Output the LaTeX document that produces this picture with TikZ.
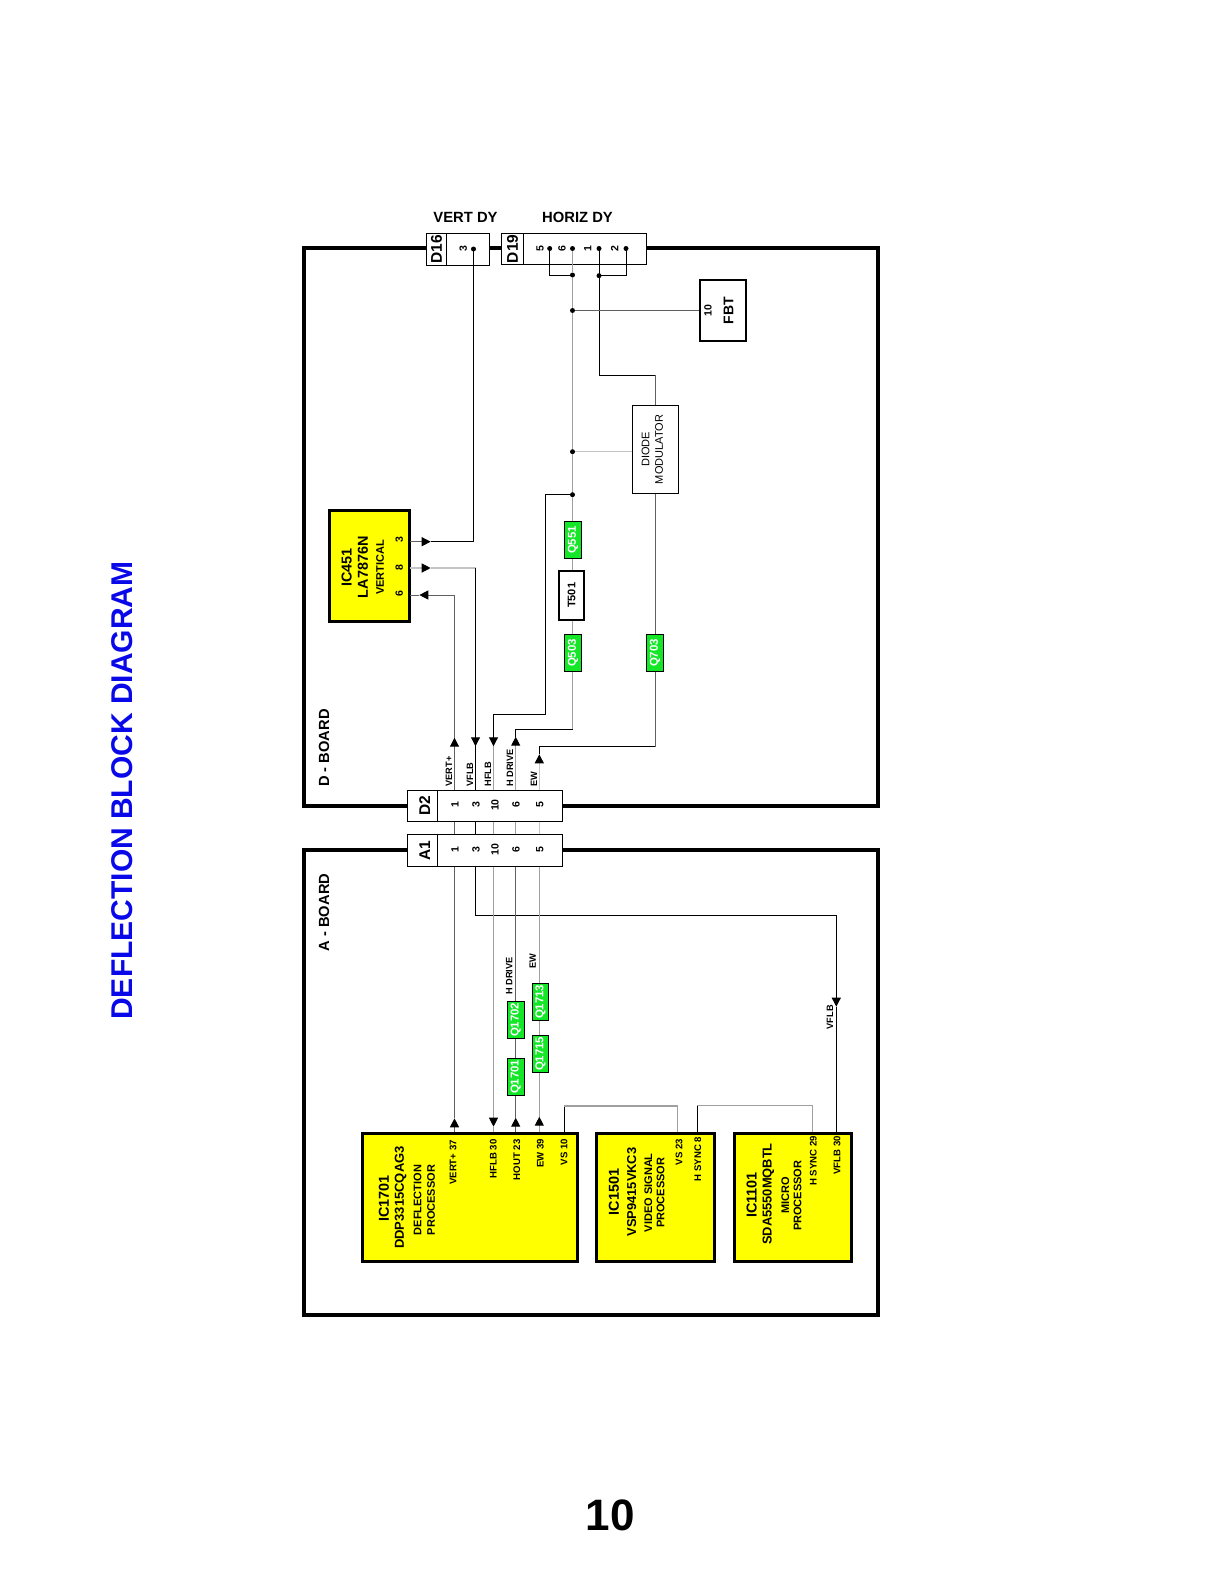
\documentclass[tikz,border=0pt]{standalone}
\usepackage{fontspec}
\setmainfont{Liberation Sans}
\usepackage{tikz}
\usetikzlibrary{arrows.meta}
\definecolor{chipyellow}{HTML}{FFFF00}
\definecolor{qgreen}{HTML}{14E628}
\definecolor{titleblue}{HTML}{0808E8}
\definecolor{wiredarkc}{HTML}{606060}
\definecolor{wiregrayc}{HTML}{A0A0A0}
\definecolor{wirelightc}{HTML}{C4C4C4}
\newcommand{\fsz}[1]{\fontsize{#1}{#1}\selectfont}
\newcommand{\rot}[1]{\rotatebox{90}{#1}}
\tikzset{
	boardnode/.style={
			rectangle,
			draw=black,
			line width=4pt,
			inner sep=0pt
		},
	chipnode/.style={
			rectangle,
			draw=black,
			fill=chipyellow,
			line width=3pt,
			inner sep=0pt
		},
	cellnode/.style={
			rectangle,
			draw=black,
			fill=white,
			line width=0.9pt,
			inner sep=0pt,
			font=\fsz{15.5}\bfseries
		},
	qnode/.style={
			rectangle,
			draw=black,
			fill=qgreen,
			text=white,
			line width=0.9pt,
			inner sep=0pt,
			minimum width=16.5pt,
			minimum height=36.5pt,
			font=\fsz{11.4}\bfseries
		},
	dotnode/.style={
			circle,
			fill=black,
			inner sep=0pt,
			minimum size=5pt
		},
	rotnode/.style={
			rotate=90,
			inner sep=0pt
		},
	titlenode/.style={
			rotnode,
			font=\fsz{14.4}\bfseries
		},
	namenode/.style={
			rotnode,
			font=\fsz{12.9}\bfseries
		},
	descnode/.style={
			rotnode,
			font=\fsz{11}\bfseries
		},
	pinnode/.style={
			rotnode,
			anchor=east,
			font=\fsz{9.6}\bfseries
		},
	numnode/.style={
			rotnode,
			font=\fsz{10.5}\bfseries
		},
	labelnode/.style={
			rotnode,
			anchor=west,
			font=\fsz{9.2}\bfseries
		},
	wire/.style={draw=black, line width=0.9pt},
	wiredark/.style={draw=wiredarkc, line width=1pt},
	wiregray/.style={draw=wiregrayc, line width=1.1pt},
	wirelight/.style={draw=wirelightc, line width=1.2pt},
	tipline/.style={-{Triangle[length=9pt,width=9pt,color=black,fill=black]}}
}
\begin{document}
\begin{tikzpicture}[x=1pt, y=-1pt]
\useasboundingbox (0,0) rectangle (1219,1582);

\node[rotnode, text=titleblue, font=\fsz{30}\bfseries] (title) at (122,790.5) {DEFLECTION BLOCK DIAGRAM};
\node[inner sep=0pt, font=\fsz{44}\bfseries] (pagenum) at (610,1515) {10};
\node[inner sep=0pt, font=\fsz{14.8}\bfseries] (vertdy) at (465.5,217.7) {VERT DY};
\node[inner sep=0pt, font=\fsz{14.8}\bfseries] (horizdy) at (577.5,217.7) {HORIZ DY};

\node[boardnode, minimum width=574pt, minimum height=557.4pt] (dboard) at (591,527) {};
\node[boardnode, minimum width=574pt, minimum height=464.7pt] (aboard) at (591,1082.7) {};
\node[rotnode, font=\fsz{14.7}\bfseries] (dboardlabel) at (324,748) {D - BOARD};
\node[rotnode, font=\fsz{14.7}\bfseries] (aboardlabel) at (324,912.5) {A - BOARD};

\node[cellnode, minimum width=20.4pt, minimum height=32pt] (d16label) at (436.5,249.3) {\rot{D16}};
\node[cellnode, minimum width=43pt, minimum height=32pt] (d16pins) at (468.2,249.3) {};
\node[cellnode, minimum width=21.6pt, minimum height=31pt] (d19label) at (512.5,248.8) {\rot{D19}};
\node[cellnode, minimum width=123.4pt, minimum height=31pt] (d19pins) at (585,248.8) {};
\node[cellnode, minimum width=30pt, minimum height=31pt] (d2label) at (422.3,805.8) {\hspace*{5pt}\rot{D2}};
\node[cellnode, minimum width=125.4pt, minimum height=31pt] (d2pins) at (500,805.8) {};
\node[cellnode, minimum width=30pt, minimum height=32pt] (a1label) at (422.3,850.3) {\hspace*{5pt}\rot{A1}};
\node[cellnode, minimum width=125.4pt, minimum height=32pt] (a1pins) at (500,850.3) {};

\node[numnode] (d16n3) at (463.3,249) {3};
\node[numnode] (d19n5) at (540,248.5) {5};
\node[numnode] (d19n6) at (562,248.5) {6};
\node[numnode] (d19n1) at (587.7,248.5) {1};
\node[numnode] (d19n2) at (614.7,248.5) {2};
\node[numnode] (d2n1) at (455,805) {1};
\node[numnode] (d2n3) at (476,805) {3};
\node[numnode] (d2n10) at (495,805) {10};
\node[numnode] (d2n6) at (516,805) {6};
\node[numnode] (d2n5) at (539.7,805) {5};
\node[numnode] (a1n1) at (455,849.7) {1};
\node[numnode] (a1n3) at (476,849.7) {3};
\node[numnode] (a1n10) at (495,849.7) {10};
\node[numnode] (a1n6) at (516,849.7) {6};
\node[numnode] (a1n5) at (539.7,849.7) {5};

\node[dotnode] (pin3) at (473.5,249) {};
\node[dotnode] (pin5) at (549.7,248.5) {};
\node[dotnode] (pin6) at (572.5,248.5) {};
\node[dotnode] (pin1) at (599,248.5) {};
\node[dotnode] (pin2) at (626,248.5) {};
\node[dotnode] (j1) at (572.5,275) {};
\node[dotnode] (j2) at (599,275.7) {};
\node[dotnode] (j3) at (572.5,310.5) {};
\node[dotnode] (j4) at (572.5,451.7) {};
\node[dotnode] (j5) at (572.5,494.7) {};

\node[draw=black, line width=2pt, inner sep=0pt, minimum width=46pt, minimum height=61pt] (fbt) at (723,310.5) {};
\node[numnode] (fbtn10) at (708,310.5) {10};
\node[rotnode, font=\fsz{14}\bfseries] (fbtlabel) at (728.5,310.5) {FBT};

\node[draw=black, line width=0.9pt, inner sep=0pt, minimum width=46pt, minimum height=87.6pt] (diode) at (655,449.5) {};
\node[rotnode, font=\fsz{11}] (diodelabel1) at (645.5,449.5) {DIODE};
\node[rotnode, font=\fsz{11}] (diodelabel2) at (659,449.5) {MODULATOR};

\node[qnode] (q551) at (573,540) {\rot{Q551}};
\node[draw=black, fill=white, line width=2pt, inner sep=0pt, minimum width=24.5pt, minimum height=49pt, font=\fsz{11}\bfseries] (t501) at (571.5,595.3) {\rot{T501}};
\node[qnode] (q503) at (573,653) {\rot{Q503}};
\node[qnode] (q703) at (655,653) {\rot{Q703}};
\node[qnode] (q1702) at (515.7,1019.8) {\rot{Q1702}};
\node[qnode] (q1701) at (515.7,1076.8) {\rot{Q1701}};
\node[qnode] (q1713) at (540.5,1001.8) {\rot{Q1713}};
\node[qnode] (q1715) at (540.5,1053.8) {\rot{Q1715}};

\node[chipnode, minimum width=79.5pt, minimum height=110.5pt] (ic451) at (369.6,566) {};
\node[titlenode] (ic451t1) at (346.7,567.3) {IC451};
\node[titlenode] (ic451t2) at (363,567.3) {LA7876N};
\node[descnode] (ic451t3) at (380,567.3) {VERTICAL};
\node[numnode] (ic451n3) at (399.3,540) {3};
\node[numnode] (ic451n8) at (399.3,567.7) {8};
\node[numnode] (ic451n6) at (399.3,593.3) {6};

\node[chipnode, minimum width=214.5pt, minimum height=127.5pt] (ic1701) at (470,1197.4) {};
\node[titlenode] (ic1701t1) at (384,1198.7) {IC1701};
\node[rotnode, font=\fsz{13}\bfseries] (ic1701t2) at (400.7,1197.5) {DDP3315CQAG3};
\node[descnode] (ic1701t3) at (417.7,1200) {DEFLECTION};
\node[descnode] (ic1701t4) at (431,1200) {PROCESSOR};
\node[pinnode] (ic1701p37) at (453,1140) {VERT+ 37};
\node[pinnode] (ic1701p30) at (493.3,1139.3) {HFLB 30};
\node[pinnode] (ic1701p23) at (516.7,1139.3) {HOUT 23};
\node[pinnode] (ic1701p39) at (540.3,1138.5) {EW 39};
\node[pinnode] (ic1701p10) at (564,1139) {VS 10};

\node[chipnode, minimum width=117.5pt, minimum height=128pt] (ic1501) at (655.5,1197.5) {};
\node[titlenode] (ic1501t1) at (614,1192) {IC1501};
\node[namenode] (ic1501t2) at (631.7,1192) {VSP9415VKC3};
\node[descnode] (ic1501t3) at (648.3,1192.7) {VIDEO SIGNAL};
\node[descnode] (ic1501t4) at (660.7,1192.7) {PROCESSOR};
\node[pinnode] (ic1501p23) at (679,1138.7) {VS 23};
\node[pinnode] (ic1501p8) at (697.7,1136.7) {H SYNC 8};

\node[chipnode, minimum width=117pt, minimum height=128pt] (ic1101) at (793.3,1197.5) {};
\node[titlenode] (ic1101t1) at (751.7,1195) {IC1101};
\node[namenode] (ic1101t2) at (768.3,1194) {SDA5550MQBTL};
\node[descnode] (ic1101t3) at (785.3,1195.5) {MICRO};
\node[descnode] (ic1101t4) at (797.7,1195.7) {PROCESSOR};
\node[pinnode] (ic1101p29) at (813.3,1136) {H SYNC 29};
\node[pinnode] (ic1101p30) at (837,1136) {VFLB 30};

\node[labelnode] (dvert) at (449,786.7) {VERT+};
\node[labelnode] (dvflb) at (470,786.7) {VFLB};
\node[labelnode] (dhflb) at (488,786.7) {HFLB};
\node[labelnode] (dhdrive) at (510,786.7) {H DRIVE};
\node[labelnode] (dew) at (534,786.7) {EW};
\node[labelnode] (ahdrive) at (509.3,995) {H DRIVE};
\node[labelnode] (aew) at (532.7,968.7) {EW};
\node[labelnode] (avflb) at (830,1029.5) {VFLB};

\coordinate (col1) at (454.5,1000);
\coordinate (col2) at (475.5,1000);
\coordinate (col3) at (493.5,1000);
\coordinate (col4) at (515.7,1000);
\coordinate (col5) at (539.3,1000);

\coordinate (ic451p3) at (409.5,541.7);
\coordinate (ic451p8) at (409.5,568);
\coordinate (ic451p6) at (409.5,595);
\coordinate (tip3) at (430.7,541.7);
\coordinate (tip8) at (430.7,568);
\coordinate (tip6) at (419.3,595);
\coordinate (dtip1) at (454.5,737.7);
\coordinate (dtip3) at (475.5,746.3);
\coordinate (dtip10) at (493.5,746.3);
\coordinate (dtip6) at (515.7,736.7);
\coordinate (dtip5) at (539.3,754.3);
\coordinate (atip1) at (454.5,1118.3);
\coordinate (atip3) at (836.3,1006.7);
\coordinate (atip10) at (493.5,1126.7);
\coordinate (atip6) at (515.7,1117.7);
\coordinate (atip5) at (539.3,1116.7);
\coordinate (diodetop) at (655,375.3);
\coordinate (hflbleft) at (545.3,714.3);
\coordinate (hdriveleft) at (515.7,729.3);
\coordinate (hdriveright) at (572.5,729.3);
\coordinate (ewleft) at (539.3,746.7);
\coordinate (ewright) at (655,746.7);
\coordinate (vfturn) at (475.5,568);
\coordinate (vertturn) at (454.5,595);
\coordinate (pin3turn) at (473.5,541.7);
\coordinate (avfleft) at (475.5,915.3);
\coordinate (avfright) at (836.3,915.3);
\coordinate (vsleft) at (564.3,1106);
\coordinate (vsright) at (677.7,1106);
\coordinate (hsleft) at (697.3,1105.7);
\coordinate (hsright) at (812.3,1105.7);

\draw[wiregray] (pin6) -- (j1) -- (j3) -- (j4) -- (j5) -- (j5 |- q551.north);
\draw[wiregray] (j5 |- q551.south) -- (j5 |- t501.north);
\draw[wiregray] (j5 |- t501.south) -- (j5 |- q503.north);
\draw[wiregray] (j5 |- q503.south) -- (hdriveright);
\draw[wire] (pin5.center) |- (j1.center);
\draw[wire] (pin2.center) |- (j2.center);
\draw[wire] (pin1.center) |- (diodetop);
\draw[wiredark] (diodetop) -- (diode.north);
\draw[wiredark] (j3) -- (fbt.west);
\draw[wirelight] (j4) -- (diode.west |- j4);
\draw[wiredark] (diode.south) -- (q703.north);
\draw[wiredark] (q703.south) -- (ewright);

\draw[wire] (pin3.center) -- (pin3turn) -- (tip3);
\draw[wiredark, tipline] (ic451p3) -- (tip3);
\draw[wirelight, tipline] (ic451p8) -- (tip8);
\draw[wirelight] (tip8) -- (vfturn);
\draw[wire, tipline] (vfturn) -- (dtip3);
\draw[wire] (dtip3) -- (col2 |- d2pins.north);
\draw[wiredark, tipline] (col1 |- d2pins.north) -- (dtip1);
\draw[wiredark] (dtip1) -- (vertturn);
\draw[wiredark, tipline] (vertturn) -- (tip6);
\draw[wiredark] (tip6) -- (ic451p6);
\draw[wire, tipline] (j5.center) -| (hflbleft) -| (dtip10);
\draw[wiregray] (dtip10) -- (col3 |- d2pins.north);
\draw[wiregray, tipline] (col4 |- d2pins.north) -- (dtip6);
\draw[wire] (dtip6) -- (hdriveleft) -- (hdriveright);
\draw[wirelight, tipline] (col5 |- d2pins.north) -- (dtip5);
\draw[wire] (dtip5) -- (ewleft) -- (ewright);

\draw[wiredark] (col1 |- d2pins.south) -- (col1 |- a1pins.north);
\draw[wire] (col2 |- d2pins.south) -- (col2 |- a1pins.north);
\draw[wiregray] (col3 |- d2pins.south) -- (col3 |- a1pins.north);
\draw[wiregray] (col4 |- d2pins.south) -- (col4 |- a1pins.north);
\draw[wirelight] (col5 |- d2pins.south) -- (col5 |- a1pins.north);

\draw[wiredark, tipline] (col1 |- ic1701.north) -- (atip1);
\draw[wiredark] (atip1) -- (col1 |- a1pins.south);
\draw[wire] (col2 |- a1pins.south) -- (avfleft) -- (avfright);
\draw[wire, tipline] (avfright) -- (atip3);
\draw[wire] (atip3) -- (atip3 |- ic1101.north);
\draw[wiregray, tipline] (col3 |- a1pins.south) -- (atip10);
\draw[wiregray] (atip10) -- (col3 |- ic1701.north);
\draw[wiredark, tipline] (col4 |- ic1701.north) -- (atip6);
\draw[wiredark] (atip6) -- (q1701.south);
\draw[wiredark] (q1701.north) -- (q1702.south);
\draw[wiredark] (q1702.north) -- (col4 |- a1pins.south);
\draw[wiregray, tipline] (col5 |- ic1701.north) -- (atip5);
\draw[wiregray] (atip5) -- (col5 |- q1715.south);
\draw[wiregray] (col5 |- q1715.north) -- (col5 |- q1713.south);
\draw[wiregray] (col5 |- q1713.north) -- (col5 |- a1pins.south);

\draw[wire] (vsleft |- ic1701.north) -- (vsleft);
\draw[wiregray] (vsleft) -- (vsright) -- (vsright |- ic1501.north);
\draw[wire] (hsleft |- ic1501.north) -- (hsleft);
\draw[wiregray] (hsleft) -- (hsright) -- (hsright |- ic1101.north);

\end{tikzpicture}
\end{document}
